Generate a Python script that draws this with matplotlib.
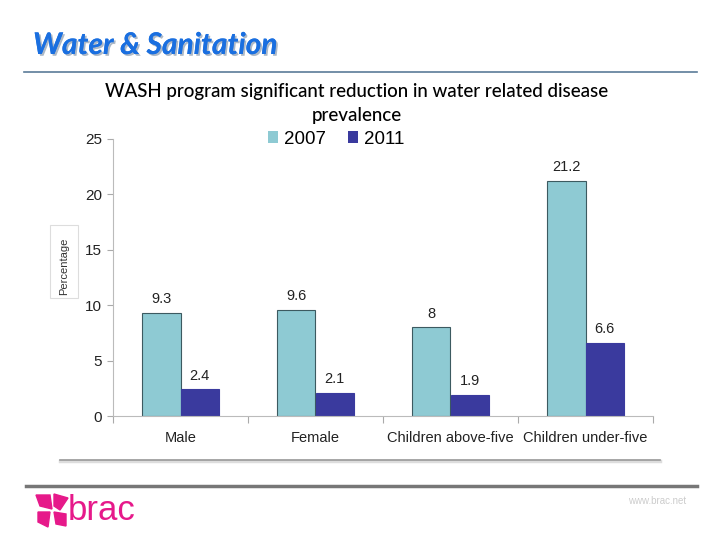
import matplotlib
matplotlib.use("Agg")
import matplotlib.pyplot as plt
import matplotlib.patheffects as pe
from matplotlib.patches import Polygon, Rectangle
import numpy as np

categories = ["Male", "Female", "Children above-five", "Children under-five"]
values_2007 = [9.3, 9.6, 8, 21.2]
values_2011 = [2.4, 2.1, 1.9, 6.6]
labels_2007 = ["9.3", "9.6", "8", "21.2"]
labels_2011 = ["2.4", "2.1", "1.9", "6.6"]
yticks = [0, 5, 10, 15, 20, 25]

W, H = 720, 540
fig = plt.figure(figsize=(7.2, 5.4), dpi=100)
fig.patch.set_facecolor("white")

def fx(px):
    return px / W

def fy(py):
    return 1 - py / H

# Header title
fig.text(fx(33), fy(45), "Water & Sanitation", fontsize=21.5, fontweight="bold",
         fontstyle="italic", family="Lato", color="#1a6fe0", va="center", ha="left",
         path_effects=[pe.withSimplePatchShadow(offset=(1.3, -1.3), shadow_rgbFace="#9aa8b8", alpha=0.8), pe.Normal()])
fig.add_artist(plt.Line2D([fx(24), fx(697)], [fy(72), fy(72)], color="#5b7b98", lw=1.2))

# Chart title
fig.text(fx(357), fy(92), "WASH program significant reduction in water related disease",
         fontsize=13.5, family="Lato", fontweight="medium", color="black", ha="center", va="center")
fig.text(fx(357), fy(116), "prevalence", fontsize=13.5, family="Lato", fontweight="medium",
         color="black", ha="center", va="center")

# Axes
ax = fig.add_axes([fx(113), fy(416), fx(653) - fx(113), fy(139) - fy(416)])
x = np.arange(len(categories))
bw = 0.285
c07 = "#8ecad3"
c11 = "#3a3a9e"
b1 = ax.bar(x - bw / 2, values_2007, bw, color=c07, edgecolor="#3c5a60", linewidth=0.8, label="2007")
b2 = ax.bar(x + bw / 2, values_2011, bw, color=c11, edgecolor=c11, linewidth=0.8, label="2011")
for rect, lab in zip(b1, labels_2007):
    ax.text(rect.get_x() + rect.get_width() / 2, rect.get_height() + 0.6, lab,
            ha="center", va="bottom", fontsize=10.5, family="Liberation Sans", color="#222222")
for rect, lab in zip(b2, labels_2011):
    ax.text(rect.get_x() + rect.get_width() / 2, rect.get_height() + 0.6, lab,
            ha="center", va="bottom", fontsize=10.5, family="Liberation Sans", color="#222222")

ax.set_xlim(-0.5, len(categories) - 0.5)
ax.set_ylim(0, 25)
ax.set_yticks(yticks)
ax.set_yticklabels([str(t) for t in yticks], fontsize=11, family="Liberation Sans", color="#222222")
ax.tick_params(axis="y", length=4, color="#aaaaaa", width=0.8, pad=4)
ax.set_xticks(np.arange(len(categories) + 1) - 0.5)
ax.set_xticklabels([])
ax.tick_params(axis="x", length=5, color="#aaaaaa", width=0.8)
for i, c in enumerate(categories):
    ax.text(i, -2.0, c, ha="center", va="center", fontsize=10.5, family="Liberation Sans", color="#222222")
for s in ["top", "right"]:
    ax.spines[s].set_visible(False)
ax.spines["left"].set_color("#bbbbbb")
ax.spines["bottom"].set_color("#bbbbbb")

leg = fig.legend(handles=[b1, b2], labels=["2007", "2011"], loc="center",
                 bbox_to_anchor=(fx(336), fy(139)), ncol=2, frameon=False,
                 prop={"family": "Liberation Sans", "size": 13.5}, handlelength=0.55,
                 handleheight=0.55, handletextpad=0.3, columnspacing=1.2, borderpad=0)
for h in leg.legend_handles:
    h.set_linewidth(0)

# Percentage label box
fig.add_artist(Rectangle((fx(50), fy(298)), fx(28), fy(225) - fy(298), transform=fig.transFigure,
                         facecolor="white", edgecolor="#dddddd", lw=0.8))
fig.text(fx(64), fy(266), "Percentage", rotation=90, fontsize=8, family="Liberation Sans",
         color="#333333", ha="center", va="center")

# Gray line under chart with shadow
fig.add_artist(plt.Line2D([fx(60), fx(660)], [fy(461), fy(461)], color="#dddddd", lw=2.5))
fig.add_artist(plt.Line2D([fx(60), fx(660)], [fy(460), fy(460)], color="#999999", lw=1.2))

# Footer line
fig.add_artist(plt.Line2D([fx(26), fx(697)], [fy(486), fy(486)], color="#777777", lw=2.5))

# brac logo
pink = "#e6198a"
petals = [
    [(36, 495), (50, 495), (52, 509), (40, 506)],
    [(54, 494), (68, 498), (60, 510), (54, 506)],
    [(38, 512), (50, 512), (48, 527), (38, 522)],
    [(54, 512), (66, 514), (66, 526), (56, 524)],
]
for p in petals:
    fig.add_artist(Polygon([(fx(a), fy(b)) for a, b in p], closed=True, transform=fig.transFigure,
                           facecolor=pink, edgecolor=pink))
fig.text(fx(68), fy(511), "brac", fontsize=25, family="Liberation Sans", color=pink,
         ha="left", va="center")
fig.text(fx(686), fy(501), "www.brac.net", fontsize=7, family="Liberation Sans", color="#cccccc",
         ha="right", va="center")

fig.savefig("out.png", dpi=100)
